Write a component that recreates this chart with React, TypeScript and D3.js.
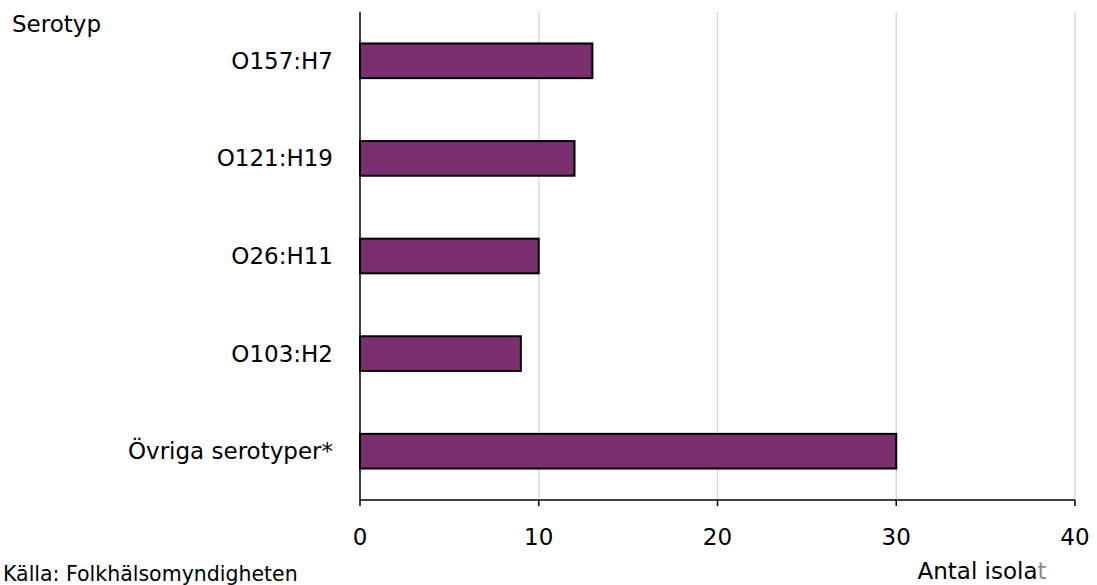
import React from "react";
import * as d3 from "d3";

const categories: string[] = ["O157:H7", "O121:H19", "O26:H11", "O103:H2", "Övriga serotyper*"];
const counts: number[] = [13, 12, 10, 9, 30];
const xTicks: number[] = [0, 10, 20, 30, 40];

const W = 1097;
const H = 585;
const FONT = "'DejaVu Sans', sans-serif";

export default function App() {
  const left = 360;
  const right = 1075;
  const top = 12;
  const bottom = 500;

  const x = d3.scaleLinear().domain([0, 40]).range([left, right]);
  const y = d3
    .scaleBand<string>()
    .domain(categories)
    .range([top, bottom])
    .paddingInner(0.645)
    .paddingOuter(0.3225);

  return (
    <svg
      width={W}
      height={H}
      style={{ position: "absolute", left: 0, top: 0, background: "#fff" }}
      fontFamily={FONT}
    >
      {/* vertical gridlines */}
      {xTicks.slice(1).map((t) => (
        <line key={"g" + t} x1={x(t)} x2={x(t)} y1={top} y2={bottom} stroke="#d9d9d9" strokeWidth={1.5} />
      ))}

      {/* bars */}
      {categories.map((c, i) => (
        <rect
          key={c}
          x={x(0)}
          y={y(c)!}
          width={x(counts[i]) - x(0)}
          height={y.bandwidth()}
          fill="#7b2f6f"
          stroke="#000"
          strokeWidth={2}
        />
      ))}

      {/* category labels */}
      {categories.map((c) => (
        <text
          key={"l" + c}
          x={333}
          y={y(c)! + y.bandwidth() / 2}
          textAnchor="end"
          dominantBaseline="central"
          fontSize={23}
          fill="#000"
        >
          {c}
        </text>
      ))}

      {/* axes */}
      <line x1={left} x2={left} y1={top} y2={bottom} stroke="#000" strokeWidth={1.5} />
      <line x1={left} x2={right} y1={bottom} y2={bottom} stroke="#000" strokeWidth={1.5} />
      {xTicks.map((t) => (
        <g key={"t" + t}>
          <line x1={x(t)} x2={x(t)} y1={bottom} y2={bottom + 6} stroke="#000" strokeWidth={1.5} />
          <text x={x(t)} y={545} textAnchor="middle" fontSize={23} fill="#000">
            {t}
          </text>
        </g>
      ))}

      <text x={12} y={32} fontSize={23} fill="#000">Serotyp</text>
      <text x={982} y={579} textAnchor="middle" fontSize={23} fill="#000">
        Antal isola<tspan fill="#8c8c8c">t</tspan>
      </text>
      <text x={3} y={581} fontSize={20.5} fill="#000">Källa: Folkhälsomyndigheten</text>
    </svg>
  );
}
